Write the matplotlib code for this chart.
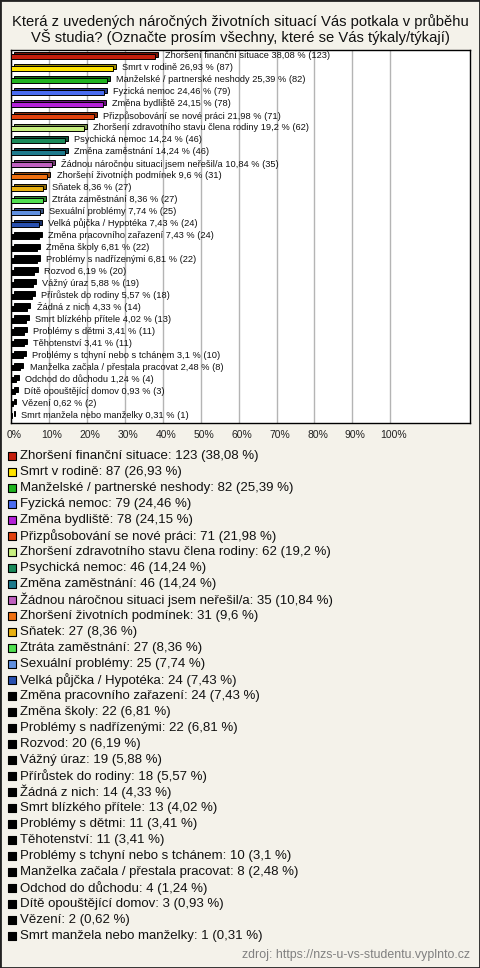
import matplotlib
matplotlib.use("Agg")
from matplotlib import pyplot as plt
from matplotlib.patches import Rectangle
from matplotlib.colors import to_rgb
from matplotlib.transforms import ScaledTranslation

plt.rcParams['font.family'] = ['Liberation Sans', 'DejaVu Sans']

title = ("Která z uvedených náročných životních situací Vás potkala v průběhu\n"
         "VŠ studia? (Označte prosím všechny, které se Vás týkaly/týkají)")

labels = [
    "Zhoršení finanční situace", "Smrt v rodině", "Manželské / partnerské neshody",
    "Fyzická nemoc", "Změna bydliště", "Přizpůsobování se nové práci",
    "Zhoršení zdravotního stavu člena rodiny", "Psychická nemoc", "Změna zaměstnání",
    "Žádnou náročnou situaci jsem neřešil/a", "Zhoršení životních podmínek", "Sňatek",
    "Ztráta zaměstnání", "Sexuální problémy", "Velká půjčka / Hypotéka",
    "Změna pracovního zařazení", "Změna školy", "Problémy s nadřízenými", "Rozvod",
    "Vážný úraz", "Přírůstek do rodiny", "Žádná z nich", "Smrt blízkého přítele",
    "Problémy s dětmi", "Těhotenství", "Problémy s tchyní nebo s tchánem",
    "Manželka začala / přestala pracovat", "Odchod do důchodu", "Dítě opouštějící domov",
    "Vězení", "Smrt manžela nebo manželky",
]
counts = [123, 87, 82, 79, 78, 71, 62, 46, 46, 35, 31, 27, 27, 25, 24, 24, 22, 22,
          20, 19, 18, 14, 13, 11, 11, 10, 8, 4, 3, 2, 1]
pcts = [38.08, 26.93, 25.39, 24.46, 24.15, 21.98, 19.2, 14.24, 14.24, 10.84, 9.6,
        8.36, 8.36, 7.74, 7.43, 7.43, 6.81, 6.81, 6.19, 5.88, 5.57, 4.33, 4.02,
        3.41, 3.41, 3.1, 2.48, 1.24, 0.93, 0.62, 0.31]
colors = ["#c41e0c", "#ffe400", "#1fb41f", "#4a6cf0", "#b420d8", "#e2420e",
          "#c8f080", "#1a8a5a", "#1e7a8c", "#c060c0", "#f07010", "#e8b010",
          "#50e050", "#6090e0", "#2850b0"]
colors = colors + ["#000000"] * (len(counts) - len(colors))

bg = "#f4f2ea"
W, H = 480, 968


def fmt(p):
    return f"{p:g}".replace(".", ",")


def px_axes(left, top, right, bottom):
    return fig.add_axes([left / W, 1 - bottom / H, (right - left) / W, (bottom - top) / H])


def darker(c, k=0.6):
    r, g, b = to_rgb(c)
    return (r * k, g * k, b * k)


fig = plt.figure(figsize=(W / 100, H / 100), dpi=100)
fig.patch.set_facecolor(bg)

fig.text(0.5, 1 - 29.5 / H, title, ha="center", va="center", fontsize=10.6,
         linespacing=0.98, color="#111111")

# bar chart
ax = px_axes(11, 50, 470, 423)
ax.set_facecolor("white")
n = len(counts)
h = 0.42
dx, dy = 0.8, 0.18
for i in range(n):
    ax.barh(i - dy, pcts[i], left=dx, height=h, color=darker(colors[i]),
            edgecolor="black", linewidth=0.7, zorder=2)
    ax.barh(i, pcts[i], height=h, color=colors[i], edgecolor="black",
            linewidth=0.7, zorder=3)
    ax.text(pcts[i] + 2.4, i - 0.05, f"{labels[i]} {fmt(pcts[i])} % ({counts[i]})",
            va="center", ha="left", fontsize=6.7, color="#111111", zorder=4)

ax.set_xlim(0, 121)
ax.set_ylim(n - 0.4, -0.55)
ax.set_xticks(range(0, 101, 10))
ax.set_xticklabels([f"{t}%" for t in range(0, 101, 10)], fontsize=7.5, color="#222222")
ax.tick_params(axis="x", length=0, pad=5)
shift = ScaledTranslation(3 / 100, 0, fig.dpi_scale_trans)
for lbl in ax.get_xticklabels():
    lbl.set_transform(lbl.get_transform() + shift)
ax.set_yticks([])
ax.grid(axis="x", color="#b4b4b4", linewidth=1)
ax.set_axisbelow(True)
for s in ax.spines.values():
    s.set_color("black")
    s.set_linewidth(1)

# legend
lax = px_axes(0, 448, W, 944)
lax.axis("off")
lax.set_xlim(0, W)
lax.set_ylim(n - 0.5, -0.5)
lax.scatter([12] * n, range(n), marker="s", s=36, c=colors, edgecolors="black",
            linewidths=0.8)
for i in range(n):
    lax.text(19.5, i, f"{labels[i]}: {counts[i]} ({fmt(pcts[i])} %)", va="center",
             ha="left", fontsize=9.5, color="#111111")

fig.text(470 / W, 1 - 955 / H, "zdroj: https://nzs-u-vs-studentu.vyplnto.cz",
         ha="right", va="center", fontsize=8.9, color="#808080")

fig.patches.append(Rectangle((0, 0), 1, 1, transform=fig.transFigure, fill=False,
                             edgecolor="#222222", linewidth=2))

fig.savefig("out.png", dpi=100, facecolor=fig.get_facecolor())
